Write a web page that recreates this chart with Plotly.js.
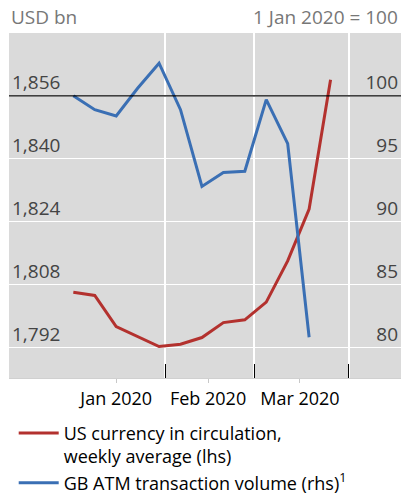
<!DOCTYPE html>
<html>
<head>
<meta charset="utf-8">
<script src="https://cdn.plot.ly/plotly-3.0.1.min.js"></script>
<style>
  html, body { margin: 0; padding: 0; background: #fff; }
  #chart { width: 401px; height: 495px; }
</style>
</head>
<body>
<div id="chart"></div>
<script>
// weekly observations (Thursdays)
const weeks = ['2020-01-02', '2020-01-09', '2020-01-16', '2020-01-23', '2020-01-30', '2020-02-06',
               '2020-02-13', '2020-02-20', '2020-02-27', '2020-03-05', '2020-03-12', '2020-03-19', '2020-03-26'];

const usCurrency = [1806.0, 1805.2, 1797.3, 1794.8, 1792.2, 1792.8, 1794.5, 1798.3, 1799.0, 1803.5, 1814.0, 1827.2, 1860.1];
const atmVolume = [100.0, 98.9, 98.4, 100.6, 102.6, 98.9, 92.8, 93.9, 94.0, 99.7, 96.2, 80.8];

const monthLabels = ['Jan 2020', 'Feb 2020', 'Mar 2020'];
const monthMids = ['2020-01-16', '2020-02-15', '2020-03-16'];
const monthEdges = ['2020-02-01', '2020-03-01', '2020-04-01'];

const lhsTicks = [1792, 1808, 1824, 1840, 1856];
const rhsTicks = [80, 85, 90, 95, 100];
const indexBase = 1856; // lhs level matching 100 on the rhs

const FONT = '"Open Sans", "Noto Sans", sans-serif';

const traces = [
    {
        x: weeks,
        y: usCurrency,
        name: 'US currency in circulation,<br>weekly average (lhs)',
        type: 'scatter',
        mode: 'lines',
        line: {color: '#b3312e', width: 3}
    },
    {
        x: weeks.slice(0, atmVolume.length),
        y: atmVolume,
        name: 'GB ATM transaction volume (rhs)<sup>1</sup>',
        type: 'scatter',
        mode: 'lines',
        yaxis: 'y2',
        line: {color: '#3a6fb4', width: 3}
    }
];

const layout = {
    width: 401,
    height: 495,
    margin: {l: 9, r: 0, t: 33, b: 117},
    paper_bgcolor: '#ffffff',
    plot_bgcolor: '#dadada',
    font: {family: FONT, size: 18, color: '#000'},
    showlegend: true,
    legend: {
        xref: 'paper', yref: 'container',
        x: 0.012, y: 0.162, xanchor: 'left', yanchor: 'top',
        orientation: 'v', valign: 'top', tracegroupgap: 0,
        itemwidth: 40,
        font: {family: FONT, size: 18, color: '#000'},
        bgcolor: 'rgba(0,0,0,0)'
    },
    xaxis: {
        type: 'date',
        range: ['2019-12-12', '2020-04-18'],
        tickmode: 'array',
        tickvals: monthMids,
        ticktext: monthLabels,
        ticks: 'outside',
        ticklen: 4,
        tickcolor: '#c8c8c8',
        showgrid: false,
        showline: true,
        linecolor: '#d0d0d0',
        zeroline: false,
        tickfont: {size: 18},
        minor: {
            tickmode: 'array',
            tickvals: monthEdges,
            ticks: 'inside',
            ticklen: 14,
            tickcolor: '#000',
            tickwidth: 1,
            showgrid: true,
            gridcolor: '#ffffff',
            gridwidth: 1.5
        }
    },
    yaxis: {
        range: [1784.2, 1872],
        tickmode: 'array',
        tickvals: lhsTicks,
        tickformat: ',d',
        ticklabelposition: 'inside top',
        showgrid: true,
        gridcolor: '#ffffff',
        gridwidth: 1.5,
        zeroline: false,
        showline: false,
        tickfont: {size: 19}
    },
    yaxis2: {
        overlaying: 'y',
        side: 'right',
        range: [77.56, 105],
        tickmode: 'array',
        tickvals: rhsTicks,
        ticklabelposition: 'inside top',
        showgrid: false,
        zeroline: false,
        showline: false,
        tickfont: {size: 19}
    },
    shapes: [
        {type: 'line', xref: 'paper', x0: 0, x1: 1, yref: 'y', y0: indexBase, y1: indexBase,
         line: {color: '#000000', width: 1.2}}
    ],
    annotations: [
        {text: 'USD bn', xref: 'paper', yref: 'paper', x: 0, y: 1, xanchor: 'left', yanchor: 'bottom',
         yshift: 1, showarrow: false, font: {family: FONT, size: 19, color: '#777'}},
        {text: '1 Jan 2020 = 100', xref: 'paper', yref: 'paper', x: 1, y: 1, xanchor: 'right', yanchor: 'bottom',
         xshift: -1, yshift: 1, showarrow: false, font: {family: FONT, size: 19, color: '#777'}}
    ]
};

Plotly.newPlot('chart', traces, layout, {staticPlot: true, displayModeBar: false});
</script>
</body>
</html>
